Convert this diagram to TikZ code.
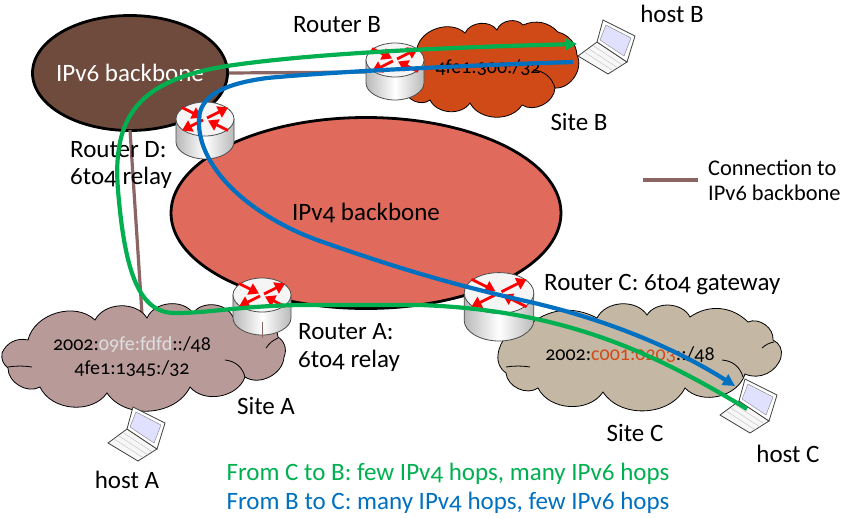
\documentclass[tikz,border=0pt]{standalone}
\usepackage{fontspec}
\setmainfont{Carlito}[Numbers=OldStyle]
\usepackage{xcolor}
\usetikzlibrary{shapes.geometric, arrows.meta, positioning}
\definecolor{sixbrown}{HTML}{6F4B3E}
\definecolor{fourred}{HTML}{E06B5C}
\definecolor{linkbrown}{HTML}{8B6563}
\definecolor{mauve}{HTML}{B89A99}
\definecolor{rust}{HTML}{D04A17}
\definecolor{sand}{HTML}{C4B7A3}
\definecolor{pathgreen}{HTML}{00B050}
\definecolor{pathblue}{HTML}{0070C0}
\tikzset{
	backbone/.style={ellipse, draw=black, line width=2.8pt, inner sep=0pt},
	site/.style={draw=black, line width=0.8pt},
	puff/.style={bend left=60},
	txt/.style={font=\fontsize{25}{30}\selectfont, inner sep=0pt},
	smalltxt/.style={font=\fontsize{22.4}{27}\selectfont, inner sep=0pt},
	addr/.style={font=\fontsize{20}{24}\selectfont, inner sep=0pt},
	link/.style={draw=linkbrown, line width=3.2pt},
	route/.style={line width=4.2pt},
	router/.pic={
		\path[draw=black!70, line width=0.8pt, left color=gray!55, right color=gray!55, middle color=white]
			(-29,0) -- (-29,23) .. controls (-29,32) and (-16,40) .. (0,40) .. controls (16,40) and (29,32) .. (29,23) -- (29,0) -- cycle;
		\draw[black!70, line width=0.8pt, fill=gray!8] (0,0) ellipse [x radius=29, y radius=17];
		\foreach \from/\to in {-2/-23, 2/23}
			\draw[red, line width=2.8pt, -{Triangle[length=10pt, width=12pt]}] (\from,-\from*0.5) -- (\to,-\to*0.5);
		\foreach \from/\to in {-23/-3, 23/3}
			\draw[red, line width=2.8pt, -{Triangle[length=10pt, width=12pt]}] (\from,\from*0.5) -- (\to,\to*0.5);
	},
	laptop/.pic={
		% keyboard first, then the screen
		\draw[black!75, line width=0.8pt, fill=gray!6] (-6,22) -- (24,42) -- (5,54) -- (-25,36) -- cycle;
		\draw[black!75, line width=0.8pt, fill=white] (0,0) -- (32,16) -- (24,42) -- (-6,22) -- cycle;
		\draw[black!50, fill=blue!12] (3,5) -- (28,18) -- (21,36) -- (-3,20) -- cycle;
		\foreach \n in {1,2,3}
			\draw[black!25] (-6+\n*-4,22+\n*3.5) -- (24+\n*-4.5,42+\n*3);
	}
}
\begin{document}
\begin{tikzpicture}[x=1pt, y=-1pt, >={Triangle[length=12pt, width=12pt]}]
	\useasboundingbox (0,0) rectangle (842,517);
	
	% Backbones
	\node[backbone, fill=sixbrown, minimum width=195pt, minimum height=115pt] (six) at (130,73) {};
	\node[backbone, fill=fourred, minimum width=390pt, minimum height=191pt] (four) at (366,213) {};
	
	% Connections to the IPv6 backbone (the one to Site A runs under the cloud)
	\coordinate (linkB) at (372,72);
	\coordinate (linkA) at (142,314);
	\coordinate (legendL) at (643,180);
	\coordinate (legendR) at (698,180);
	\draw[link] (six.east) -- (linkB);
	\draw[link] (130,130) -- (linkA);
	\draw[link] (legendL) -- (legendR);
	
	% Sites
	\draw[site, fill=mauve] (28,340) to[puff] (95,320) to[puff] (147,318) to[puff] (193,313) to[puff] (233,317) to[puff] (278,337) to[bend left=40] (284,357) to[puff] (245,377) to[puff] (190,387) to[puff] (107,393) to[puff] (40,387) to[puff] (8,368) to[bend left=30] (2,353) to[bend left=40] cycle;
	\draw[site] (8,367) to[bend left=8] (32,367);
	\draw[site] (225,360) to[bend left=35] (245,377);
	\draw[site] (266,348) to[bend left=15] (278,338);
	\draw[site, fill=rust] (417,48) to[puff] (465,33) to[puff] (497,30) to[puff] (523,25) to[bend left=35] (558,32) to[bend left=35] (577,55) to[bend left=60] (555,88) to[puff] (522,105) to[puff] (470,103) to[puff] (430,100) to[puff] (405,90) to[bend left=30] cycle;
	\draw[site] (533,70) to[bend left=35] (555,88);
	\draw[site, fill=sand] (498,355) to[bend left=40] (527,327) to[bend left=35] (597,318) to[puff] (647,315) to[puff] (690,317) to[bend left=40] (748,322) to[puff] (773,340) to[bend left=40] (781,357) to[bend left=50] (745,374) to[puff] (685,388) to[puff] (603,392) to[puff] (538,388) to[puff] (506,373) to[bend left=30] cycle;
	\draw[site] (506,367) to[bend left=8] (530,367);
	\draw[site] (722,360) to[bend left=35] (743,377);
	\draw[site] (762,348) to[bend left=15] (774,342);
	
	% Routers and hosts
	\pic (routerA) at (262,295) {router};
	\pic (routerB) at (395,60) {router};
	\pic (routerD) at (205,119) {router};
	\pic[scale=1.2] (routerC) at (499,293) {router};
	\pic (hostA) at (133,407) {laptop};
	\pic (hostB) at (603,20) {laptop};
	\pic (hostC) at (745,379) {laptop};
	\draw[linkbrown, line width=1pt] (262,322) -- (262,338);
	
	% Text under the paths
	\node[txt, text=white] (sixtext) at (130,73) {IPv6 backbone};
	\node[txt] (fourtext) at (366,213) {IPv4 backbone};
	\node[addr] (addrB) at (488,68) {4fe1:300:/32};
	\node[addr] (addrA) at (132,344) {2002:\textcolor{gray!25}{09fe:fdfd}::/48};
	\node[addr] (addrAtwo) at (132,369) {4fe1:1345:/32};
	\node[addr] (addrC) at (630,355) {2002:\textcolor{rust}{c001:0203}::/48};
	
	% Labels
	\node[txt] (labelB) at (337,25) {Router B};
	\node[txt] (labelhostB) at (672,14) {host B};
	\node[txt] (labelsiteB) at (579,122) {Site B};
	\node[txt, anchor=west] (labelD) at (70,150) {Router D:};
	\node[txt, anchor=west] (labelDtwo) at (70,178) {6to4 relay};
	\node[txt, anchor=west] (labelA) at (298,332) {Router A:};
	\node[txt, anchor=west] (labelAtwo) at (298,361) {6to4 relay};
	\node[txt, anchor=west] (labelC) at (544,285) {Router C: 6to4 gateway};
	\node[txt] (labelsiteA) at (266,406) {Site A};
	\node[txt] (labelhostA) at (127,480) {host A};
	\node[txt] (labelsiteC) at (635,433) {Site C};
	\node[txt] (labelhostC) at (788,454) {host C};
	\node[smalltxt, anchor=west] (legendone) at (708,168) {Connection to};
	\node[smalltxt, anchor=west] (legendtwo) at (708,193) {IPv6 backbone};
	\node[txt, text=pathgreen] (fromC) at (448,474) {From C to B: few IPv4 hops, many IPv6 hops};
	\node[txt, text=pathblue] (fromB) at (448,503) {From B to C: many IPv4 hops, few IPv6 hops};
	
	% Paths
	\coordinate (greenstart) at (747,409);
	\coordinate (greenend) at (577,44);
	\coordinate (bluestart) at (573,62);
	\coordinate (blueend) at (735,386);
	\draw[route, pathgreen, ->] (greenstart) .. controls (650,350) and (560,310) .. (420,305) -- (300,305) .. controls (240,306) and (210,313) .. (175,313) .. controls (140,313) and (125,275) .. (118,190) .. controls (112,115) and (140,80) .. (227,66) .. controls (300,55) and (420,48) .. (greenend);
	\draw[route, pathblue, ->] (bluestart) .. controls (450,66) and (330,72) .. (267,78) .. controls (215,85) and (197,100) .. (199,125) .. controls (201,170) and (250,215) .. (317,240) .. controls (380,262) and (440,282) .. (530,302) .. controls (600,318) and (670,345) .. (blueend);
\end{tikzpicture}
\end{document}
